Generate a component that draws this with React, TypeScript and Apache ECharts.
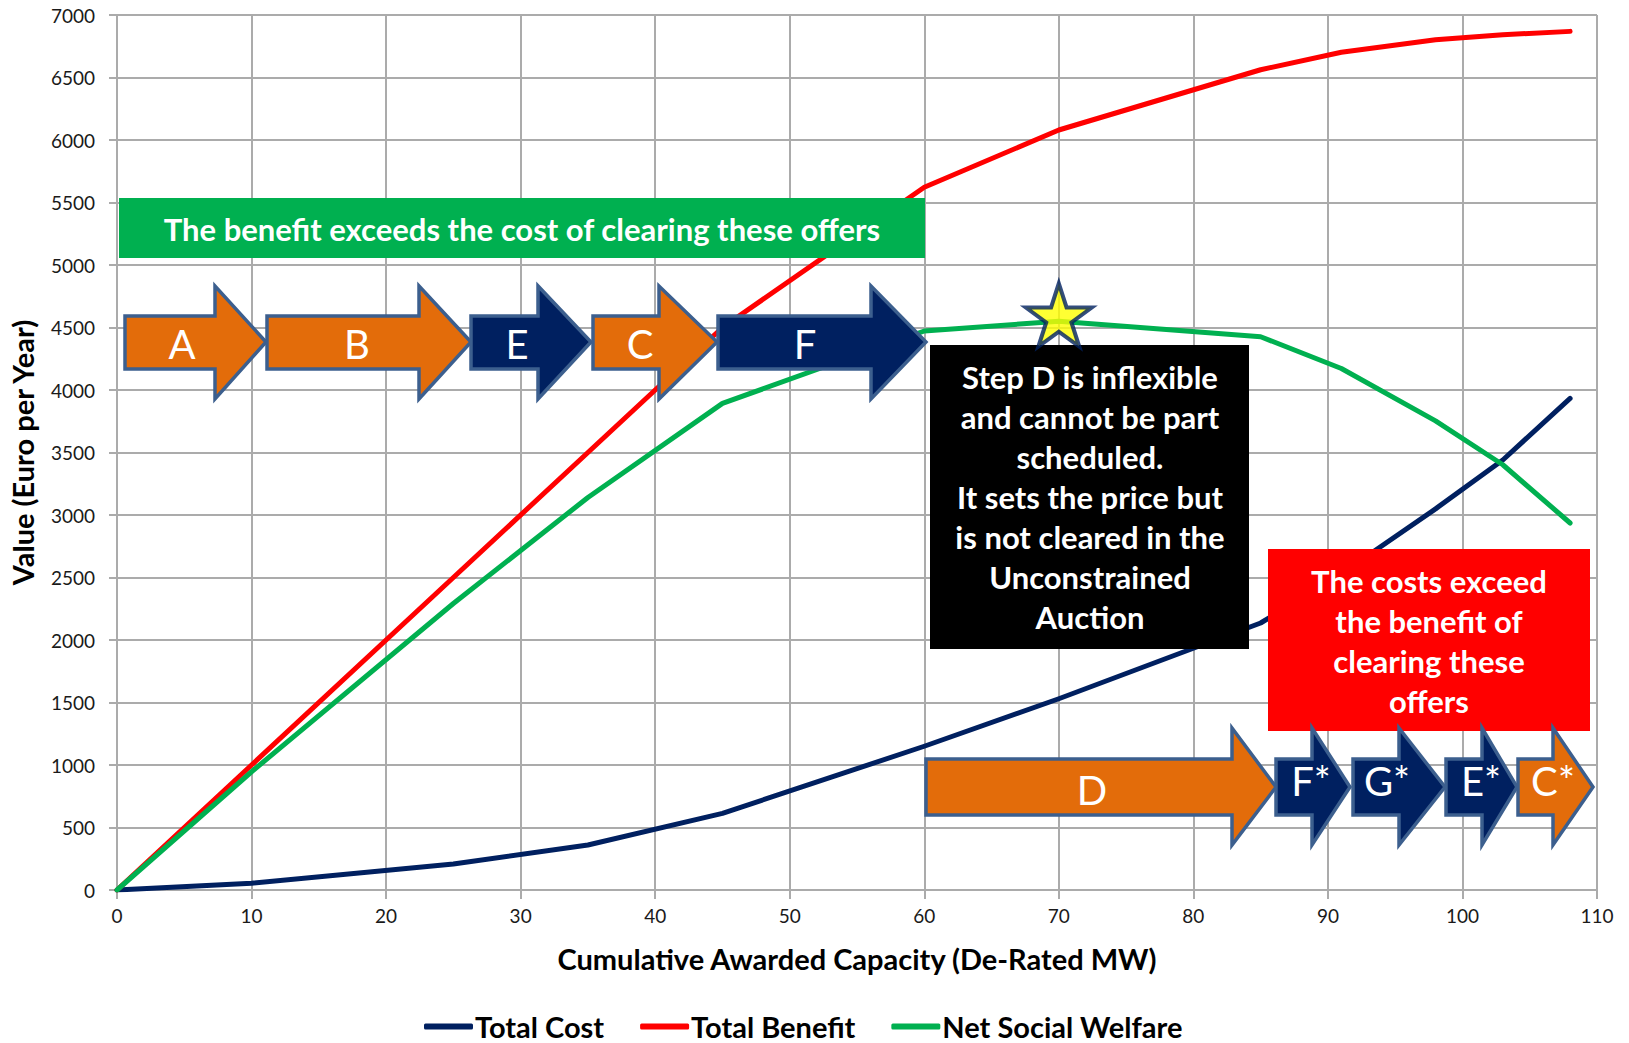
import React, { useEffect, useRef } from "react";
import * as echarts from "echarts";

// ---- data ----
const capacity = [0, 10, 25, 35, 45, 60, 70, 85, 91, 98, 103, 108];
const totalCost = [0, 54, 208, 360, 613, 1150, 1530, 2136, 2530, 3049, 3440, 3933];
const totalBenefit = [0, 1000, 2500, 3500, 4500, 5622, 6080, 6562, 6702, 6802, 6842, 6869];
const netSocialWelfare = [0, 946, 2292, 3140, 3893, 4472, 4550, 4426, 4172, 3753, 3402, 2936];
const starPoint = [70, 4600];
const seriesNames = ["Total Cost", "Total Benefit", "Net Social Welfare"];
const seriesColors = ["#002060", "#FF0000", "#00B050"];

const topSteps = ["A", "B", "E", "C", "F"];
const topStepColors = ["orange", "orange", "navy", "orange", "navy"];
const bottomSteps = ["D", "F*", "G*", "E*", "C*"];
const bottomStepColors = ["orange", "navy", "navy", "navy", "orange"];

const greenNote = "The benefit exceeds the cost of clearing these offers";
const blackNote = [
  "Step D is inflexible",
  "and cannot be part",
  "scheduled.",
  "It sets the price but",
  "is not cleared in the",
  "Unconstrained",
  "Auction",
];
const redNote = ["The costs exceed", "the benefit of", "clearing these", "offers"];

// ---- layout (pixels) ----
const FONT = "Lato";
const fillOf: Record<string, string> = { orange: "#E36C0A", navy: "#002060" };
const ARROW_STROKE = "#3C5F8E";

// arrow geometry: [left, headBase, tip, labelX]
const topGeom = [
  [125, 215, 266, 182],
  [267, 419, 471, 357],
  [471, 538, 591, 517],
  [593, 659, 717, 640],
  [718, 871, 926, 805],
];
const topY = { headTop: 286, bodyTop: 316, mid: 342, bodyBottom: 369, headBottom: 399, label: 344 };
const bottomGeom = [
  [926, 1232, 1276, 1092],
  [1276, 1312, 1350, 1311],
  [1353, 1399, 1445, 1387],
  [1446, 1482, 1517, 1481],
  [1518, 1553, 1593, 1553],
];
const bottomY = { headTop: 728, bodyTop: 759, mid: 787, bodyBottom: 815, headBottom: 845 };
const bottomLabelY = [790, 781, 781, 781, 781];

function arrow(g: number[], y: any, color: string) {
  const [l, hb, tip] = g;
  return {
    type: "polygon",
    z: 10,
    shape: {
      points: [
        [l, y.bodyTop],
        [hb, y.bodyTop],
        [hb, y.headTop],
        [tip, y.mid],
        [hb, y.headBottom],
        [hb, y.bodyBottom],
        [l, y.bodyBottom],
      ],
    },
    style: { fill: fillOf[color], stroke: ARROW_STROKE, lineWidth: 3.5, lineJoin: "miter" },
  };
}

function label(text: string, x: number, y: number) {
  return {
    type: "text",
    z: 11,
    x,
    y,
    style: {
      text,
      fill: "#FFFFFF",
      font: `400 40px ${FONT}`,
      textAlign: "center",
      textVerticalAlign: "middle",
    },
  };
}

function buildGraphics() {
  const els: any[] = [];
  // green box
  els.push({ type: "rect", z: 10, shape: { x: 119, y: 198, width: 806, height: 60 }, style: { fill: "#00B050" } });
  els.push({
    type: "text",
    z: 11,
    x: 522,
    y: 229,
    style: { text: greenNote, fill: "#FFFFFF", font: `700 31px ${FONT}`, textAlign: "center", textVerticalAlign: "middle" },
  });
  // top arrows
  topSteps.forEach((s, i) => {
    els.push(arrow(topGeom[i], topY, topStepColors[i]));
    els.push(label(s, topGeom[i][3], topY.label));
  });
  // black box
  els.push({ type: "rect", z: 10, shape: { x: 930, y: 345, width: 319, height: 304 }, style: { fill: "#000000" } });
  els.push({
    type: "text",
    z: 11,
    x: 1090,
    y: 497,
    style: {
      text: blackNote.join("\n"),
      fill: "#FFFFFF",
      font: `700 31px ${FONT}`,
      lineHeight: 40,
      textAlign: "center",
      textVerticalAlign: "middle",
    },
  });
  // red box
  els.push({ type: "rect", z: 10, shape: { x: 1268, y: 549, width: 322, height: 182 }, style: { fill: "#FF0000" } });
  els.push({
    type: "text",
    z: 11,
    x: 1429,
    y: 641,
    style: {
      text: redNote.join("\n"),
      fill: "#FFFFFF",
      font: `700 31px ${FONT}`,
      lineHeight: 40,
      textAlign: "center",
      textVerticalAlign: "middle",
    },
  });
  // bottom arrows
  bottomSteps.forEach((s, i) => {
    els.push(arrow(bottomGeom[i], bottomY, bottomStepColors[i]));
    els.push(label(s, bottomGeom[i][3], bottomLabelY[i]));
  });
  return els;
}

const STAR_PATH =
  "path://M50,0 L61.2,34.5 L97.6,34.5 L68.2,55.9 L79.4,90.5 L50,69.1 L20.6,90.5 L31.8,55.9 L2.4,34.5 L38.8,34.5 Z";

export default function App() {
  const ref = useRef<HTMLDivElement>(null);
  useEffect(() => {
    if (!ref.current) return;
    const chart = echarts.init(ref.current, null, { renderer: "svg" });
    const gridColor = "#ABABAB";
    const lineSeries = [totalCost, totalBenefit, netSocialWelfare].map((vals, i) => ({
      name: seriesNames[i],
      type: "line",
      data: capacity.map((x, j) => [x, vals[j]]),
      showSymbol: false,
      symbol: "none",
      smooth: false,
      z: 3 + i,
      lineStyle: { color: seriesColors[i], width: 5, cap: "round", join: "round" },
      itemStyle: { color: seriesColors[i] },
    }));
    chart.setOption({
      animation: false,
      backgroundColor: "#FFFFFF",
      textStyle: { fontFamily: FONT },
      grid: { left: 116, top: 15, width: 1481, height: 875, containLabel: false },
      legend: {
        data: seriesNames,
        left: 419,
        top: 1007,
        itemGap: 36,
        itemWidth: 49,
        itemHeight: 6,
        icon: "roundRect",
        textStyle: { fontFamily: FONT, fontWeight: 700, fontSize: 29, color: "#000000", padding: [0, 0, 0, -3] },
      },
      xAxis: {
        type: "value",
        min: 0,
        max: 110,
        interval: 10,
        name: "Cumulative Awarded Capacity (De-Rated MW)",
        nameLocation: "middle",
        nameGap: 54,
        nameTextStyle: { fontFamily: FONT, fontWeight: 700, fontSize: 29, color: "#000000" },
        axisLine: { show: true, lineStyle: { color: gridColor, width: 2 } },
        axisTick: { show: true, length: 9, lineStyle: { color: gridColor, width: 2 } },
        axisLabel: { margin: 16, fontFamily: FONT, fontSize: 19, color: "#1A1A1A" },
        splitLine: { show: true, lineStyle: { color: gridColor, width: 2 } },
      },
      yAxis: {
        type: "value",
        min: 0,
        max: 7000,
        interval: 500,
        name: "Value (Euro per Year)",
        nameLocation: "middle",
        nameRotate: 90,
        nameGap: 80,
        nameTextStyle: { fontFamily: FONT, fontWeight: 700, fontSize: 29, color: "#000000" },
        axisLine: { show: true, lineStyle: { color: gridColor, width: 2 } },
        axisTick: { show: true, length: 8, lineStyle: { color: gridColor, width: 2 } },
        axisLabel: {
          margin: 22,
          fontFamily: FONT,
          fontSize: 19,
          color: "#1A1A1A",
          formatter: (v: number) => String(v),
        },
        splitLine: { show: true, lineStyle: { color: gridColor, width: 2 } },
      },
      series: [
        ...lineSeries,
        {
          name: "Optimum",
          type: "scatter",
          data: [starPoint],
          symbol: STAR_PATH,
          symbolSize: [66, 63],
          z: 30,
          itemStyle: { color: "#FFFF00", borderColor: "#002060", borderWidth: 4 },
          silent: true,
        },
      ],
      graphic: { elements: buildGraphics() },
    });
    return () => chart.dispose();
  }, []);
  return (
    <div
      ref={ref}
      style={{ position: "absolute", left: 0, top: 0, width: 1629, height: 1043, background: "#FFFFFF" }}
    />
  );
}
